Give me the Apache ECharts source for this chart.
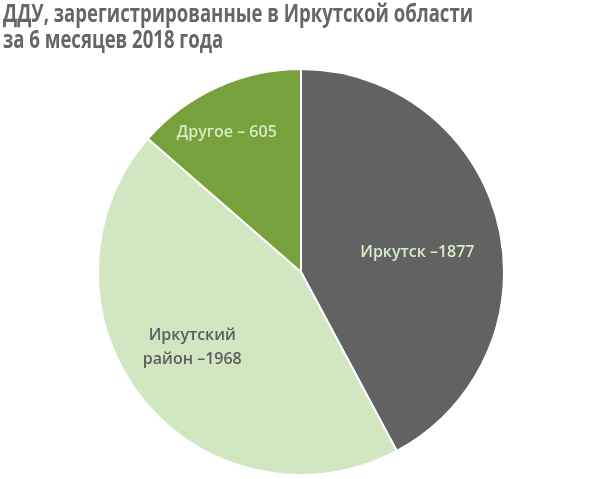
<!DOCTYPE html>
<html><head><meta charset="utf-8">
<script src="https://cdn.jsdelivr.net/npm/echarts@6/dist/echarts.min.js"></script>
<style>html,body{margin:0;padding:0;background:#fff}#c{width:600px;height:479px}</style>
</head><body><div id="c"></div>
<script>
const titleLines = ['ДДУ, зарегистрированные в Иркутской области', 'за 6 месяцев 2018 года'];
const categories = ['Иркутск', 'Иркутский\nрайон', 'Другое'];
const values = [1877, 1968, 605];
const labelTexts = ['Иркутск –1877', 'Иркутский\nрайон –1968', 'Другое – 605'];
const colors = ['#626262', '#d0e7c2', '#77a13d'];
const labelColors = ['#d6ebc6', '#5e5e5e', '#d6ebc6'];
const labelOffsets = [[15, 6], [-27, 10], [-31, -44]];
const labelAligns = ['center', 'left', 'center'];

const titleFont = 'bold 25px "Open Sans"';
const cv = document.createElement('canvas').getContext('2d');
cv.font = titleFont;
const titleScale = 470 / cv.measureText(titleLines[0]).width;

const chart = echarts.init(document.getElementById('c'), null, {renderer: 'canvas'});
chart.setOption({
  animation: false,
  graphic: titleLines.map((t, i) => ({
    type: 'text', x: 3, y: 2 + i * 26, scaleX: titleScale, silent: true,
    style: {text: t, fontFamily: 'Open Sans', fontWeight: 'bold', fontSize: 25, fill: '#666666', verticalAlign: 'top'}
  })),
  series: [{
    type: 'pie',
    center: [301, 272],
    radius: [0, 203],
    startAngle: 90,
    clockwise: true,
    silent: true,
    itemStyle: {borderColor: '#ffffff', borderWidth: 2},
    labelLine: {show: false},
    data: categories.map((c, i) => ({
      name: c, value: values[i],
      itemStyle: {color: colors[i]},
      label: {
        show: true, position: 'inside', formatter: labelTexts[i],
        color: labelColors[i], offset: labelOffsets[i], align: labelAligns[i],
        fontFamily: 'Open Sans', fontWeight: 600, fontSize: 16, lineHeight: 24
      }
    }))
  }]
});
</script></body></html>
